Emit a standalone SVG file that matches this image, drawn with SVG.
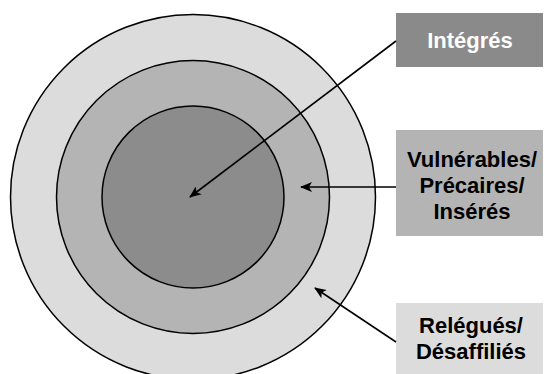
<svg xmlns="http://www.w3.org/2000/svg" width="546" height="374" viewBox="0 0 546 374">
<defs>
<style>
.ring{stroke:#000;stroke-width:1.5}
.lbl{font-family:"Liberation Sans",Arial,sans-serif;font-weight:bold;font-size:22px;text-anchor:middle}
.conn{stroke:#000;stroke-width:1.6;fill:none}
</style>
<marker id="ah" viewBox="0 0 12 10" refX="11" refY="5" markerWidth="12" markerHeight="10" markerUnits="userSpaceOnUse" orient="auto">
<path d="M0,0 L12,5 L0,10 L3,5 Z" fill="#000"/>
</marker>
</defs>
<rect width="546" height="374" fill="#fff"/>
<g id="circles">
<circle class="ring" cx="193" cy="197" r="182.5" fill="#dcdcdc"/>
<circle class="ring" cx="193" cy="197" r="136.5" fill="#b4b4b4"/>
<circle class="ring" cx="193" cy="197" r="91" fill="#8c8c8c"/>
</g>
<g id="node-integres">
<rect x="396" y="13" width="147" height="54" fill="#8a8a8a"/>
<text class="lbl" x="470" y="48" fill="#fff">Intégrés</text>
</g>
<g id="node-vulnerables">
<rect x="396" y="130" width="147" height="106" fill="#b4b4b4"/>
<text class="lbl" x="472" y="166.5">Vulnérables/</text>
<text class="lbl" x="472" y="192.5">Précaires/</text>
<text class="lbl" x="472" y="218.5">Insérés</text>
</g>
<g id="node-relegues">
<rect x="396" y="303" width="147" height="75" fill="#dcdcdc"/>
<text class="lbl" x="471" y="332.5">Relégués/</text>
<text class="lbl" x="471" y="358.5">Désaffiliés</text>
</g>
<g id="connectors">
<line class="conn" x1="396" y1="41" x2="190" y2="197" marker-end="url(#ah)"/>
<line class="conn" x1="396" y1="187" x2="301" y2="187" marker-end="url(#ah)"/>
<line class="conn" x1="396" y1="342" x2="315" y2="288" marker-end="url(#ah)"/>
</g>
</svg>
